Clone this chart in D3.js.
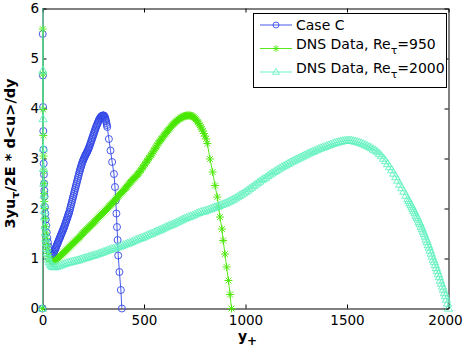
<!DOCTYPE html>
<html>
<head>
<meta charset="utf-8">
<script src="https://cdn.jsdelivr.net/npm/d3@7"></script>
<style>
  body { margin: 0; background: #fff; }
  text { font-family: "DejaVu Sans", sans-serif; }
</style>
</head>
<body>
<div id="chart"></div>
<script>
// data: y+ positions and 3yu_tau/2E * d<u>/dy values
const yPlusC = [0,1,2,3,4,5,6,7,8,9,10,12,14,16,18,21,24,27,30,34,38,42,
  47,49.5,52,54.5,57,59.5,62,64.5,67,69.5,72,74.5,77,79.5,82,84.5,87,89.5,92,94.5,97,99.5,
  102,104.5,107,109.5,112,114.5,117,119.5,122,124.5,127,129.5,132,134.5,137,139.5,142,144.5,147,149.5,
  152,154.5,157,159.5,162,164.5,167,169.5,172,174.5,177,179.5,182,184.5,187,189.5,192,194.5,197,199.5,
  202,204.5,207,209.5,212,214.5,217,219.5,222,224.5,227,229.5,232,234.5,237,239.5,242,244.5,247,249.5,
  252,254.5,257,259.5,262,264.5,267,269.5,272,274.5,277,279.5,282,284.5,287,289.5,292,294.5,297,299.5,
  302,304.5,307,309,311,313,315,317,319,
  327,335,343,352,357,361,364,367,370,373,379,386,391]
const valC = [0,5.49,4.66,4.03,3.55,3.18,2.9,2.68,2.5,2.36,2.24,2.03,1.9,1.78,1.66,1.52,1.41,1.32,1.24,1.17,1.11,1.08,
  1.06,1.07,1.09,1.11,1.13,1.155,1.18,1.205,1.23,1.255,1.28,1.305,1.33,1.355,1.38,1.405,1.43,1.455,1.48,1.505,1.53,1.555,
  1.58,1.605,1.63,1.66,1.69,1.72,1.75,1.78,1.81,1.84,1.87,1.9,1.93,1.97,2.01,2.05,2.09,2.13,2.17,2.21,
  2.25,2.29,2.33,2.37,2.41,2.45,2.49,2.53,2.57,2.61,2.65,2.69,2.73,2.765,2.8,2.835,2.87,2.9,2.93,2.955,
  2.98,3.005,3.03,3.05,3.07,3.09,3.11,3.13,3.15,3.175,3.2,3.225,3.25,3.28,3.31,3.34,3.37,3.4,3.43,3.46,
  3.49,3.52,3.55,3.58,3.61,3.635,3.66,3.685,3.71,3.735,3.76,3.78,3.8,3.815,3.83,3.84,3.85,3.855,3.86,3.86,
  3.86,3.85,3.83,3.81,3.78,3.75,3.71,3.67,3.63,
  3.39,3.16,2.93,2.69,2.43,2.16,1.9,1.63,1.37,1.06,0.73,0.37,0]

const yPlus950 = [0,1,2,3,4,5,6,7,8,9,10,12,14,16,18,21,24,27,30,34,38,43,48,53,
  55,60,65,70,75,80,85,90,95,100,105,110,115,120,125,130,135,140,145,150,155,160,165,170,175,180,185,190,195,200,
  205,210,215,220,225,230,235,240,245,250,255,260,265,270,275,280,285,290,295,300,305,310,315,320,325,330,335,340,345,350,
  355,360,365,370,375,380,385,390,395,400,405,410,415,420,425,430,435,440,445,450,455,460,465,470,475,480,485,490,495,500,
  505,510,515,520,525,530,535,540,545,550,555,560,565,570,575,580,585,590,595,600,605,610,615,620,625,630,635,640,645,650,
  655,660,665,670,675,680,685,690,695,700,705,710,715,720,725,730,735,740,745,750,755,760,765,770,775,780,785,790,795,800,
  806,812,825,838,850,861,868,874,884,890,899,907,916,924,931]
const val950 = [0,5.59,4.69,3.98,3.46,3.05,2.74,2.5,2.3,2.14,2.0,1.8,1.64,1.51,1.4,1.28,1.18,1.1,1.04,0.99,0.96,0.94,0.93,0.93,
  0.935,0.95,0.965,0.98,1.0,1.02,1.04,1.06,1.08,1.1,1.12,1.14,1.16,1.18,1.2,1.22,1.24,1.26,1.28,1.3,1.32,1.34,1.36,1.38,1.4,1.42,1.44,1.46,1.485,1.51,
  1.53,1.55,1.57,1.59,1.61,1.63,1.65,1.67,1.69,1.71,1.73,1.75,1.775,1.8,1.82,1.84,1.86,1.88,1.9,1.92,1.94,1.96,1.98,2.0,2.025,2.05,2.07,2.09,2.11,2.13,
  2.155,2.18,2.205,2.23,2.255,2.28,2.3,2.32,2.34,2.36,2.385,2.41,2.435,2.46,2.485,2.51,2.535,2.56,2.58,2.6,2.62,2.64,2.665,2.69,2.715,2.74,2.77,2.8,2.83,2.86,
  2.89,2.92,2.95,2.98,3.01,3.04,3.07,3.1,3.135,3.17,3.2,3.23,3.265,3.3,3.33,3.36,3.385,3.41,3.44,3.47,3.495,3.52,3.545,3.57,3.595,3.62,3.645,3.67,3.69,3.71,
  3.73,3.75,3.765,3.78,3.795,3.81,3.82,3.83,3.84,3.85,3.855,3.86,3.86,3.86,3.86,3.86,3.85,3.84,3.825,3.81,3.785,3.76,3.73,3.7,3.665,3.63,3.59,3.55,3.5,3.45,
  3.39,3.3,2.99,2.73,2.46,2.23,2.03,1.83,1.59,1.36,1.09,0.83,0.56,0.28,0]

const yPlus2000 = [0,1,2,3,4,5,6,7,8,9,10,12,14,16,18,21,24,27,30,34,38,43,48,54,
  60,70,80,90,100,110,120,130,140,150,160,170,180,190,200,210,220,230,240,250,260,270,280,290,300,
  310,320,330,340,350,360,370,380,390,400,410,420,430,440,450,460,470,480,490,500,510,520,530,540,550,
  560,570,580,590,600,610,620,630,640,650,660,670,680,690,700,710,720,730,740,750,760,770,780,790,800,
  810,820,830,840,850,860,870,880,890,900,910,920,930,940,950,960,970,980,990,1000,1010,1020,1030,1040,1050,
  1060,1070,1080,1090,1100,1110,1120,1130,1140,1150,1160,1170,1180,1190,1200,1210,1220,1230,1240,1250,1260,1270,1280,1290,1300,
  1310,1320,1330,1340,1350,1360,1370,1380,1390,1400,1410,1420,1430,1440,1450,1460,1470,1480,1490,1500,1510,1520,1530,1540,1550,
  1560,1570,1580,1590,1600,1610,1620,1630,1640,1650,1660,1670,1680,1690,1700,1710,1720,1730,1740,1750,1760,1770,1780,1790,1800,
  1805,1810,1815,1820,1825,1830,1835,1840,1845,1850,1855,1860,1865,1870,1875,1880,1885,1890,1895,1900,
  1905,1910,1915,1920,1925,1930,1935,1940,1945,1950,1955,1960,1965,1970,1975,1980,1985,1990,1995,2000]
const val2000 = [0,6.6,4.76,3.79,3.2,2.8,2.5,2.27,2.09,1.95,1.83,1.65,1.51,1.4,1.31,1.2,1.11,1.04,0.98,0.93,0.89,0.86,0.84,0.83,
  0.83,0.84,0.85,0.865,0.88,0.895,0.91,0.92,0.93,0.94,0.95,0.96,0.97,0.985,1.0,1.01,1.02,1.035,1.05,1.06,1.07,1.085,1.1,1.115,1.13,
  1.145,1.16,1.175,1.19,1.2,1.21,1.225,1.24,1.255,1.27,1.285,1.3,1.315,1.33,1.35,1.37,1.385,1.4,1.415,1.43,1.45,1.47,1.485,1.5,1.52,
  1.54,1.555,1.57,1.59,1.61,1.63,1.65,1.665,1.68,1.7,1.72,1.74,1.76,1.78,1.8,1.815,1.83,1.845,1.86,1.88,1.9,1.915,1.93,1.94,1.95,
  1.965,1.98,1.995,2.01,2.025,2.04,2.055,2.07,2.085,2.1,2.12,2.14,2.16,2.18,2.205,2.23,2.255,2.28,2.305,2.33,2.36,2.39,2.42,2.45,2.48,
  2.51,2.54,2.57,2.595,2.62,2.65,2.68,2.705,2.73,2.755,2.78,2.805,2.83,2.85,2.87,2.895,2.92,2.94,2.96,2.98,3.0,3.02,3.04,3.06,3.08,
  3.1,3.12,3.135,3.15,3.17,3.19,3.205,3.22,3.235,3.25,3.265,3.28,3.295,3.31,3.32,3.33,3.34,3.35,3.355,3.36,3.36,3.36,3.35,3.34,3.33,
  3.32,3.305,3.29,3.27,3.25,3.23,3.21,3.18,3.16,3.13,3.09,3.05,3.0,2.95,2.89,2.83,2.77,2.7,2.63,2.56,2.48,2.41,2.34,2.26,2.19,
  2.15,2.11,2.07,2.03,1.99,1.95,1.91,1.86,1.82,1.78,1.73,1.69,1.64,1.59,1.54,1.49,1.44,1.38,1.33,1.27,
  1.22,1.16,1.1,1.04,0.98,0.93,0.87,0.81,0.75,0.69,0.63,0.56,0.5,0.44,0.38,0.31,0.25,0.18,0.1,0]

const seriesNames = ["Case C", "DNS Data, Re_τ=950", "DNS Data, Re_τ=2000"]
const xTicks = [0, 500, 1000, 1500, 2000]
const yTicks = [0, 1, 2, 3, 4, 5, 6]

// svg size and plot box
var width = 463
var height = 349
var margin = { top: 8.5, right: 14.5, bottom: 40.5, left: 42.5 }

const series = [
  { name: seriesNames[0], xs: yPlusC, ys: valC, color: "#3348e8", marker: "circle" },
  { name: seriesNames[1], xs: yPlus950, ys: val950, color: "#47e600", marker: "star" },
  { name: seriesNames[2], xs: yPlus2000, ys: val2000, color: "#62f2c0", marker: "triangle" },
]

const svg = d3.select("#chart")
  .append("svg")
  .attr("width", width)
  .attr("height", height)

const x = d3.scaleLinear()
  .domain([0, 2000])
  .range([margin.left, width - margin.right])

const y = d3.scaleLinear()
  .domain([0, 6])
  .range([height - margin.bottom, margin.top])

// box + inward ticks like matlab
function xAxisBottom(g) {
  g.attr("transform", `translate(0,${y(0)})`)
    .call(d3.axisBottom(x).tickValues(xTicks).tickSize(-4).tickSizeOuter(0).tickPadding(6.5).tickFormat(d3.format("d")))
}
function xAxisTop(g) {
  g.attr("transform", `translate(0,${y(6)})`)
    .call(d3.axisTop(x).tickValues(xTicks).tickSize(-4).tickSizeOuter(0).tickFormat(""))
}
function yAxisLeft(g) {
  g.attr("transform", `translate(${x(0)},0)`)
    .call(d3.axisLeft(y).tickValues(yTicks).tickSize(-4).tickSizeOuter(0).tickPadding(3.5).tickFormat(d3.format("d")))
}
function yAxisRight(g) {
  g.attr("transform", `translate(${x(2000)},0)`)
    .call(d3.axisRight(y).tickValues(yTicks).tickSize(-4).tickSizeOuter(0).tickFormat(""))
}

const axes = svg.append("g")
const bottomAxis = axes.append("g").call(xAxisBottom)
axes.append("g").call(xAxisTop)
axes.append("g").call(yAxisLeft)
axes.append("g").call(yAxisRight)
axes.selectAll("text").attr("font-size", 13.5).attr("fill", "#000").attr("font-family", "Liberation Sans, Arial, sans-serif")
axes.selectAll("path, line").attr("stroke", "#000").attr("stroke-width", 1)
// matlab pulls the last label in so it stays inside the figure
bottomAxis.selectAll(".tick text").filter(d => d === 2000).attr("dx", -3.5)

// clip lines to the axes box
svg.append("clipPath").attr("id", "plotclip")
  .append("rect")
  .attr("x", x(0)).attr("y", y(6))
  .attr("width", x(2000) - x(0)).attr("height", y(0) - y(6))

const markerPaths = {
  circle: "M3.5,0A3.5,3.5 0 1,1 -3.5,0A3.5,3.5 0 1,1 3.5,0Z",
  star: "M-4,0H4M0,-4V4M-2.9,-2.9L2.9,2.9M-2.9,2.9L2.9,-2.9",
  triangle: "M0,-4.4L4.1,2.7L-4.1,2.7Z",
}

const line = d3.line().x(d => x(d[0])).y(d => y(d[1]))

series.forEach(s => {
  const pts = s.xs.map((v, i) => [v, s.ys[i]])
  const g = svg.append("g")
  g.append("path")
    .attr("clip-path", "url(#plotclip)")
    .attr("d", line(pts))
    .attr("fill", "none")
    .attr("stroke", s.color)
    .attr("stroke-width", 0.9)
  g.selectAll("path.mk")
    .data(pts.filter(d => d[1] <= 6))
    .join("path")
    .attr("class", "mk")
    .attr("transform", d => `translate(${x(d[0])},${y(d[1])})`)
    .attr("d", markerPaths[s.marker])
    .attr("fill", "none")
    .attr("stroke", s.color)
    .attr("stroke-width", 0.9)
})

// legend
const legend = svg.append("g")
legend.append("rect")
  .attr("x", 253.5).attr("y", 13.5)
  .attr("width", 193).attr("height", 74)
  .attr("fill", "#fff").attr("stroke", "#000").attr("stroke-width", 1)

const rowY = [25, 48.5, 72]
const textY = [29.8, 48.8, 72.8]
series.forEach((s, i) => {
  legend.append("line")
    .attr("x1", 260).attr("x2", 292)
    .attr("y1", rowY[i]).attr("y2", rowY[i])
    .attr("stroke", s.color).attr("stroke-width", 0.9)
  legend.append("path")
    .attr("transform", `translate(276,${rowY[i]}) scale(0.85)`)
    .attr("d", markerPaths[s.marker])
    .attr("fill", "none").attr("stroke", s.color).attr("stroke-width", 1)
  const t = legend.append("text")
    .attr("x", 296).attr("y", textY[i])
    .attr("font-size", 14).attr("fill", "#000")
  const parts = s.name.split("_")
  t.append("tspan").text(parts[0])
  if (parts.length > 1) {
    t.append("tspan").attr("dy", 5).attr("font-size", 11).text(parts[1][0])
    t.append("tspan").attr("dy", -5).text(parts[1].slice(1))
  }
})

// axis titles
const yTitle = svg.append("text")
  .attr("transform", `translate(15,${(y(0) + y(6)) / 2 - 5}) rotate(-90)`)
  .attr("text-anchor", "middle")
  .attr("font-family", "Liberation Sans, Arial, sans-serif")
  .attr("font-weight", "bold")
  .attr("font-size", 14.5)
yTitle.append("tspan").text("3yu")
yTitle.append("tspan").attr("dy", 4).attr("font-size", 11).text("τ")
yTitle.append("tspan").attr("dy", -4).text("/2E * d<u>/dy")

const xTitle = svg.append("text")
  .attr("x", (x(0) + x(2000)) / 2 + 2).attr("y", 340.5)
  .attr("text-anchor", "middle")
  .attr("font-family", "Liberation Sans, Arial, sans-serif")
  .attr("font-weight", "bold")
  .attr("font-size", 14)
xTitle.append("tspan").text("y")
xTitle.append("tspan").attr("dy", 4.5).attr("font-size", 12).text("+")
</script>
</body>
</html>
